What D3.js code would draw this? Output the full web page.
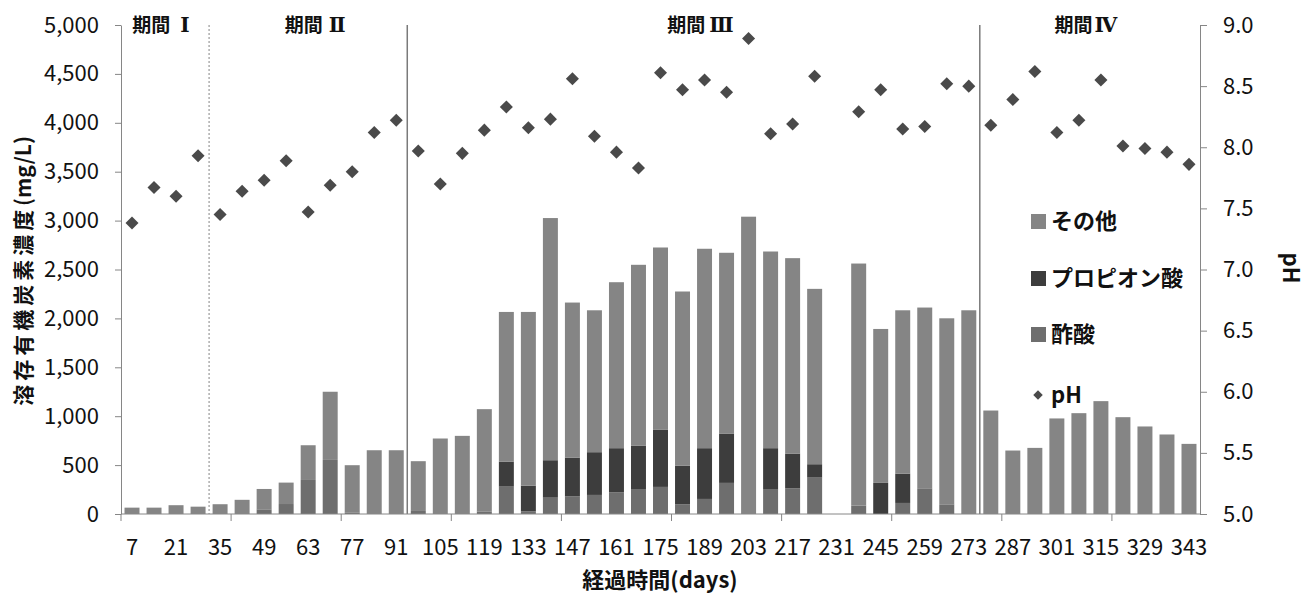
<!DOCTYPE html>
<html>
<head>
<meta charset="utf-8">
<script src="https://cdn.jsdelivr.net/npm/d3@7"></script>
<style>
  body { margin: 0; background: #fff; }
  svg text { font-family: "Noto Sans CJK JP", "Noto Sans", sans-serif; }
  .axis path, .axis line { stroke: #868686; }
  .axis text { fill: #111; font-size: 22px; }
</style>
</head>
<body>
<svg id="chart" width="1310" height="597"></svg>
<script>
// Data
const days = [7, 14, 21, 28, 35, 42, 49, 56, 63, 70, 77, 84, 91, 98, 105, 112, 119, 126, 133, 140,
  147, 154, 161, 168, 175, 182, 189, 196, 203, 210, 217, 224, 231, 238, 245, 252, 259, 266, 273,
  280, 287, 294, 301, 308, 315, 322, 329, 336, 343];

const acetic = [0, 0, 0, 0, 0, 0, 48, 102, 348, 553, 17, 0, 0, 31, 0, 0, 27, 280, 27, 167,
  181, 195, 222, 249, 277, 99, 154, 318, 0, 249, 263, 372, 0, 85, 0, 113, 263, 99, 0,
  0, 0, 0, 0, 0, 0, 0, 0, 0, 0];

const propionic = [0, 0, 0, 0, 0, 0, 0, 0, 0, 0, 0, 0, 0, 0, 0, 0, 0, 256, 263, 383,
  396, 437, 451, 451, 587, 396, 519, 505, 0, 424, 355, 137, 0, 0, 318, 300, 0, 0, 0,
  0, 0, 0, 0, 0, 0, 0, 0, 0, 0];

const others = [65, 65, 90, 75, 100, 145, 208, 219, 355, 697, 482, 652, 652, 509, 772, 799, 1045, 1530, 1776, 2476,
  1585, 1451, 1697, 1848, 1861, 1780, 2039, 1848, 3040, 2011, 1998, 1793, 0, 2476, 1574, 1670, 1848, 1902, 2083,
  1058, 649, 676, 977, 1031, 1154, 990, 895, 813, 717];

const pH = [7.38, 7.67, 7.60, 7.93, 7.45, 7.64, 7.73, 7.89, 7.47, 7.69, 7.80, 8.12, 8.22, 7.97, 7.70, 7.95, 8.14, 8.33, 8.16, 8.23,
  8.56, 8.09, 7.96, 7.83, 8.61, 8.47, 8.55, 8.45, 8.89, 8.11, 8.19, 8.58, null, 8.29, 8.47, 8.15, 8.17, 8.52, 8.50,
  8.18, 8.39, 8.62, 8.12, 8.22, 8.55, 8.01, 7.99, 7.96, 7.86];

const seriesNames = ["酢酸", "プロピオン酸", "その他"];
const seriesColors = ["#6e6e6e", "#3d3d3d", "#858585"];

const periods = [
  { num: "Ⅰ", from: 7, to: 28, gap: 10 },
  { num: "Ⅱ", from: 35, to: 98, gap: 6 },
  { num: "Ⅲ", from: 105, to: 273, gap: 4 },
  { num: "Ⅳ", from: 280, to: 343, gap: 2 },
];
const dividers = [
  { day: 35, dashed: true },
  { day: 98, dashed: false },
  { day: 280, dashed: false },
];

const yTicks = [0, 500, 1000, 1500, 2000, 2500, 3000, 3500, 4000, 4500, 5000];
const pHTicks = [5.0, 5.5, 6.0, 6.5, 7.0, 7.5, 8.0, 8.5, 9.0];

// Layout
const svg = d3.select("#chart");
const plotL = 121, plotR = 1200, plotT = 25, plotB = 514;

const x = d3.scaleBand().domain(days).range([plotL, plotR]).paddingInner(0.32).paddingOuter(0.16);
const y = d3.scaleLinear().domain([0, 5000]).range([plotB, plotT]);
const yPH = d3.scaleLinear().domain([5, 9]).range([plotB, plotT]);

// category boundary (left edge of slot)
const slotLeft = (d) => x(d) - (x.step() * x.paddingInner()) / 2;

// Stacked bars
const table = days.map((d, i) => ({ day: d, a: acetic[i], p: propionic[i], o: others[i] }));
const stack = d3.stack().keys(["a", "p", "o"])(table);

svg.append("g")
  .selectAll("g")
  .data(stack)
  .join("g")
  .attr("fill", (s, i) => seriesColors[i])
  .selectAll("rect")
  .data((s) => s.filter((v) => v[1] - v[0] > 0))
  .join("rect")
  .attr("x", (v) => x(v.data.day))
  .attr("width", x.bandwidth())
  .attr("y", (v) => y(v[1]))
  .attr("height", (v) => y(v[0]) - y(v[1]));

// Period dividers
dividers.forEach((dv) => {
  svg.append("line")
    .attr("x1", slotLeft(dv.day)).attr("x2", slotLeft(dv.day))
    .attr("y1", plotT).attr("y2", plotB)
    .attr("stroke", dv.dashed ? "#999" : "#7a7a7a")
    .attr("stroke-width", dv.dashed ? 1.2 : 1.5)
    .attr("stroke-dasharray", dv.dashed ? "2,2" : null);
});

// Period labels
const periodText = svg.append("g")
  .selectAll("text")
  .data(periods)
  .join("text")
  .attr("x", (p) => (slotLeft(p.from) + slotLeft(p.to) + x.step()) / 2 - 4)
  .attr("y", 32)
  .attr("text-anchor", "middle")
  .attr("font-size", 19)
  .attr("font-weight", "bold")
  .attr("fill", "#111");
periodText.append("tspan").text("期間");
periodText.append("tspan")
  .attr("dx", (p) => p.gap)
  .attr("font-family", "'DejaVu Serif', 'Liberation Serif', serif")
  .attr("font-size", 20)
  .text((p) => p.num);

// Left axis
svg.append("g")
  .attr("class", "axis")
  .attr("transform", `translate(${plotL},0)`)
  .call(d3.axisLeft(y).tickValues(yTicks).tickFormat(d3.format(",")).tickSize(6).tickSizeOuter(0).tickPadding(16));

// Right axis
svg.append("g")
  .attr("class", "axis")
  .attr("transform", `translate(${plotR},0)`)
  .call(d3.axisRight(yPH).tickValues(pHTicks).tickFormat(d3.format(".1f")).tickSize(7).tickSizeOuter(0).tickPadding(16));

// Bottom axis: labels every other day, tick marks every 5 categories
const xAxis = svg.append("g")
  .attr("class", "axis")
  .attr("transform", `translate(0,${plotB})`)
  .call(d3.axisBottom(x).tickValues(days.filter((d, i) => i % 2 === 0)).tickSize(0).tickPadding(25));
xAxis.select(".domain").attr("d", `M${plotL},0H${plotR}`);

xAxis.selectAll(".bound")
  .data(days.filter((d, i) => i % 5 === 0))
  .join("line")
  .attr("class", "bound")
  .attr("x1", (d) => slotLeft(d)).attr("x2", (d) => slotLeft(d))
  .attr("y1", 0).attr("y2", 7);

// pH points
const diamond = d3.symbol().type(d3.symbolSquare).size(85);
svg.append("g")
  .selectAll("path")
  .data(days.map((d, i) => ({ day: d, v: pH[i] })).filter((d) => d.v !== null))
  .join("path")
  .attr("d", diamond)
  .attr("transform", (d) => `translate(${x(d.day) + x.bandwidth() / 2},${yPH(d.v)}) rotate(45)`)
  .attr("fill", "#4a4a4a");

// Axis titles
const yTitle = svg.append("text")
  .attr("transform", "translate(31,271) rotate(-90)")
  .attr("text-anchor", "middle")
  .attr("font-size", 21)
  .attr("font-weight", "bold")
  .attr("fill", "#111");
yTitle.append("tspan").attr("letter-spacing", 4).text("溶存有機炭素濃度");
yTitle.append("tspan").text("(mg/L)");

svg.append("text")
  .attr("x", 660)
  .attr("y", 588)
  .attr("text-anchor", "middle")
  .attr("font-size", 22)
  .attr("font-weight", "bold")
  .attr("fill", "#111")
  .text("経過時間(days)");

svg.append("text")
  .attr("transform", "translate(1283,268) rotate(90)")
  .attr("text-anchor", "middle")
  .attr("font-size", 22)
  .attr("font-weight", "bold")
  .attr("fill", "#111")
  .text("pH");

// Legend
const legendItems = [
  { name: seriesNames[2], color: seriesColors[2], y: 221 },
  { name: seriesNames[1], color: seriesColors[1], y: 278 },
  { name: seriesNames[0], color: seriesColors[0], y: 334 },
];
const legend = svg.append("g");
legendItems.forEach((it) => {
  legend.append("rect")
    .attr("x", 1031).attr("y", it.y - 7)
    .attr("width", 15).attr("height", 15)
    .attr("fill", it.color);
  legend.append("text")
    .attr("x", 1051).attr("y", it.y)
    .attr("dy", "0.35em")
    .attr("font-size", 22)
    .attr("font-weight", "bold")
    .attr("fill", "#111")
    .text(it.name);
});
legend.append("path")
  .attr("d", d3.symbol().type(d3.symbolSquare).size(45)())
  .attr("transform", "translate(1038,395) rotate(45)")
  .attr("fill", "#4a4a4a");
legend.append("text")
  .attr("x", 1051).attr("y", 395)
  .attr("dy", "0.35em")
  .attr("font-size", 22)
  .attr("font-weight", "bold")
  .attr("fill", "#111")
  .text("pH");
</script>
</body>
</html>
